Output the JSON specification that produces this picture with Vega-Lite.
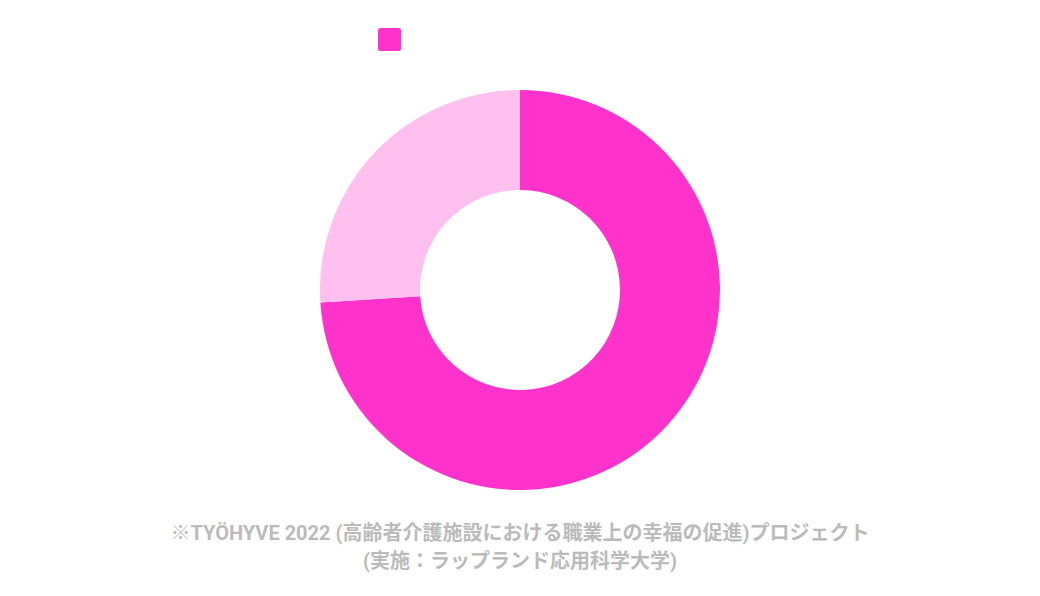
{
  "$schema": "https://vega.github.io/schema/vega-lite/v6.json",
  "width": 1040,
  "height": 580,
  "autosize": {"type": "none"},
  "padding": 0,
  "background": "white",
  "config": {"view": {"stroke": null}},
  "title": {
    "text": ["※TYÖHYVE 2022 (高齢者介護施設における職業上の幸福の促進)プロジェクト", "(実施：ラップランド応用科学大学)"],
    "orient": "bottom",
    "anchor": "middle",
    "offset": -56,
    "font": "Roboto, Noto Sans CJK JP",
    "fontSize": 20,
    "fontWeight": "bold",
    "lineHeight": 28,
    "color": "#bbbbbb"
  },
  "data": {
    "values": [
      {"回答": "はい", "割合": 74},
      {"回答": "いいえ", "割合": 26}
    ]
  },
  "mark": {"type": "arc", "innerRadius": 100, "outerRadius": 200, "stroke": null},
  "encoding": {
    "theta": {"field": "割合", "type": "quantitative", "stack": true},
    "order": {"field": "割合", "type": "quantitative", "sort": "descending"},
    "color": {
      "field": "回答",
      "type": "nominal",
      "scale": {"domain": ["はい", "いいえ"], "range": ["#ff33cc", "#ffc0ef"]},
      "legend": {
        "title": null,
        "values": ["はい"],
        "orient": "none",
        "legendX": 378,
        "legendY": 28,
        "symbolType": "M-0.75,-1H0.75Q1,-1,1,-0.75V0.75Q1,1,0.75,1H-0.75Q-1,1,-1,0.75V-0.75Q-1,-1,-0.75,-1Z",
        "symbolSize": 529,
        "symbolStrokeWidth": 0,
        "labelColor": "white",
        "labelFontSize": 14
      }
    }
  }
}
